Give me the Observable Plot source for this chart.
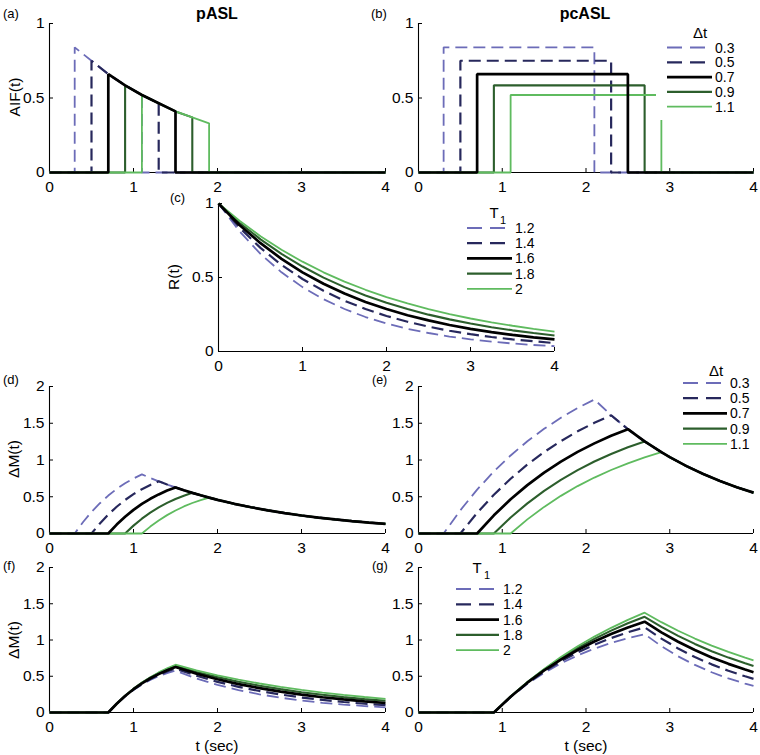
<!DOCTYPE html>
<html><head><meta charset="utf-8">
<script src="https://cdn.jsdelivr.net/npm/d3@7"></script>
<script src="https://cdn.jsdelivr.net/npm/@observablehq/plot@0.6"></script>
<style>
body{margin:0;background:#fff;}
#fig{position:relative;width:760px;height:755px;overflow:hidden;background:#fff;font-family:"Liberation Sans",Arial,Helvetica,sans-serif;}
#fig svg{position:absolute;}
</style></head><body><div id="fig"></div>
<script>
// ---------- tick labels / categories ----------
const xTicks = [0, 1, 2, 3, 4];
const yTicksAIF = [0, 0.5, 1];
const yTicksDM = [0, 0.5, 1, 1.5, 2];
const dtLabels = ["0.3", "0.5", "0.7", "0.9", "1.1"];
const t1Labels = ["1.2", "1.4", "1.6", "1.8", "2"];

// ---------- (a) pASL AIF ----------
const aifP03 = [[0,0],[0.3,0],[0.3,0.84],[0.5,0.75],[0.7,0.66],[0.9,0.585],[1.1,0.52],[1.1,0],[4,0]];
const aifP05 = [[0,0],[0.5,0],[0.5,0.75],[0.7,0.66],[0.9,0.585],[1.1,0.52],[1.3,0.465],[1.3,0],[4,0]];
const aifP07 = [[0,0],[0.7,0],[0.7,0.66],[0.9,0.585],[1.1,0.52],[1.3,0.465],[1.5,0.41],[1.5,0],[4,0]];
const aifP09 = [[0,0],[0.9,0],[0.9,0.585],[1.1,0.52],[1.3,0.465],[1.5,0.41],[1.7,0.37],[1.7,0],[4,0]];
const aifP11 = [[0,0],[1.1,0],[1.1,0.52],[1.3,0.465],[1.5,0.41],[1.7,0.37],[1.9,0.33],[1.9,0],[4,0]];

// ---------- (b) pcASL AIF ----------
const aifC03 = [[0,0],[0.3,0],[0.3,0.84],[2.1,0.84],[2.1,0],[4,0]];
const aifC05 = [[0,0],[0.5,0],[0.5,0.75],[2.3,0.75],[2.3,0],[4,0]];
const aifC07 = [[0,0],[0.7,0],[0.7,0.66],[2.5,0.66],[2.5,0],[4,0]];
const aifC09 = [[0,0],[0.9,0],[0.9,0.585],[2.7,0.585],[2.7,0],[4,0]];
const aifC11 = [[0,0],[1.1,0],[1.1,0.52],[2.9,0.52],[2.9,0],[4,0]];

// ---------- (c) R(t) ----------
const tGridC = [0,0.25,0.5,0.75,1,1.25,1.5,1.75,2,2.25,2.5,2.75,3,3.25,3.5,3.75,4];
const R12 = [1,0.812,0.659,0.535,0.435,0.353,0.287,0.233,0.189,0.153,0.125,0.101,0.082,0.067,0.054,0.044,0.036];
const R14 = [1,0.837,0.700,0.585,0.490,0.410,0.343,0.287,0.240,0.201,0.168,0.140,0.117,0.098,0.082,0.069,0.057];
const R16 = [1,0.855,0.732,0.626,0.535,0.458,0.392,0.335,0.287,0.245,0.210,0.179,0.153,0.131,0.112,0.096,0.082];
const R18 = [1,0.870,0.758,0.659,0.574,0.499,0.435,0.378,0.329,0.287,0.249,0.217,0.189,0.164,0.143,0.125,0.108];
const R20 = [1,0.883,0.779,0.687,0.607,0.535,0.472,0.417,0.368,0.325,0.287,0.253,0.223,0.197,0.174,0.153,0.135];

// ---------- (d) pASL dM, varying dt ----------
const dRise03 = [[0,0],[0.3,0],[0.4,0.156],[0.5,0.293],[0.6,0.412],[0.7,0.516],[0.8,0.607],[0.9,0.684],[1.0,0.749],[1.1,0.804]];
const dRise05 = [[0,0],[0.5,0],[0.6,0.137],[0.7,0.258],[0.8,0.364],[0.9,0.456],[1.0,0.535],[1.1,0.603],[1.2,0.661],[1.3,0.710]];
const dRise07 = [[0,0],[0.7,0],[0.8,0.121],[0.9,0.228],[1.0,0.321],[1.1,0.402],[1.2,0.472],[1.3,0.532],[1.4,0.584],[1.5,0.627]];
const dRise09 = [[0,0],[0.9,0],[1.0,0.107],[1.1,0.201],[1.2,0.283],[1.3,0.355],[1.4,0.417],[1.5,0.470],[1.6,0.515],[1.7,0.553]];
const dRise11 = [[0,0],[1.1,0],[1.2,0.094],[1.3,0.177],[1.4,0.250],[1.5,0.313],[1.6,0.368],[1.7,0.415],[1.8,0.455],[1.9,0.488]];
const dTail = [[1.2,0.756],[1.3,0.710],[1.4,0.667],[1.5,0.627],[1.6,0.589],[1.7,0.553],[1.8,0.520],[1.9,0.488],[2.0,0.458],[2.2,0.404],[2.4,0.357],[2.6,0.315],[2.8,0.278],[3.0,0.245],[3.2,0.216],[3.4,0.191],[3.6,0.169],[3.8,0.149],[4.0,0.131]];

// ---------- (e) pcASL dM, varying dt ----------
const eRise03 = [[0,0],[0.3,0],[0.5,0.317],[0.7,0.597],[0.9,0.844],[1.1,1.062],[1.3,1.255],[1.5,1.425],[1.7,1.574],[1.9,1.707],[2.1,1.823]];
const eRise05 = [[0,0],[0.5,0],[0.7,0.280],[0.9,0.527],[1.1,0.745],[1.3,0.938],[1.5,1.107],[1.7,1.257],[1.9,1.390],[2.1,1.506],[2.3,1.609]];
const eRise07 = [[0,0],[0.7,0],[0.9,0.247],[1.1,0.465],[1.3,0.658],[1.5,0.828],[1.7,0.977],[1.9,1.110],[2.1,1.226],[2.3,1.329],[2.5,1.420]];
const eRise09 = [[0,0],[0.9,0],[1.1,0.218],[1.3,0.410],[1.5,0.580],[1.7,0.730],[1.9,0.862],[2.1,0.979],[2.3,1.082],[2.5,1.173],[2.7,1.253]];
const eRise11 = [[0,0],[1.1,0],[1.3,0.192],[1.5,0.362],[1.7,0.512],[1.9,0.645],[2.1,0.761],[2.3,0.864],[2.5,0.955],[2.7,1.035],[2.9,1.106]];
const eTail = [[2.1,1.823],[2.3,1.609],[2.5,1.420],[2.7,1.253],[2.9,1.106],[3.0,1.039],[3.2,0.917],[3.4,0.809],[3.6,0.714],[3.8,0.630],[4.0,0.556]];

// ---------- (f) pASL dM, varying T1 ----------
const tGridF = [0,0.7,0.8,0.9,1.0,1.1,1.2,1.3,1.4,1.5,1.75,2.0,2.25,2.5,2.75,3.0,3.25,3.5,3.75,4.0];
const fT12 = [0,0,0.120,0.223,0.311,0.386,0.449,0.501,0.543,0.577,0.468,0.380,0.309,0.251,0.204,0.165,0.134,0.109,0.089,0.072];
const fT14 = [0,0,0.121,0.226,0.317,0.395,0.462,0.519,0.566,0.605,0.506,0.423,0.354,0.296,0.248,0.207,0.173,0.145,0.121,0.101];
const fT16 = [0,0,0.121,0.228,0.321,0.402,0.472,0.532,0.584,0.627,0.536,0.459,0.392,0.336,0.287,0.246,0.210,0.180,0.154,0.131];
const fT18 = [0,0,0.122,0.230,0.325,0.408,0.481,0.544,0.598,0.644,0.560,0.488,0.425,0.370,0.322,0.280,0.244,0.212,0.185,0.161];
const fT20 = [0,0,0.122,0.231,0.327,0.413,0.487,0.553,0.610,0.659,0.582,0.513,0.453,0.400,0.353,0.311,0.275,0.242,0.214,0.189];

// ---------- (g) pcASL dM, varying T1 ----------
const tGridG = [0,0.9,1.1,1.3,1.5,1.7,1.9,2.1,2.3,2.5,2.7,2.9,3.1,3.3,3.5,3.7,3.9,4.0];
const gT12 = [0,0,0.214,0.395,0.548,0.677,0.787,0.880,0.959,1.025,1.081,0.915,0.775,0.656,0.555,0.470,0.398,0.366];
const gT14 = [0,0,0.216,0.404,0.566,0.707,0.829,0.935,1.027,1.106,1.175,1.019,0.883,0.765,0.664,0.575,0.499,0.464];
const gT16 = [0,0,0.218,0.411,0.580,0.730,0.862,0.979,1.082,1.173,1.253,1.106,0.976,0.861,0.760,0.671,0.592,0.556];
const gT18 = [0,0,0.220,0.416,0.592,0.749,0.890,1.016,1.129,1.230,1.320,1.181,1.057,0.946,0.846,0.757,0.678,0.641];
const gT20 = [0,0,0.221,0.421,0.601,0.765,0.913,1.047,1.168,1.278,1.377,1.246,1.127,1.020,0.923,0.835,0.756,0.719];

// ---------- helpers ----------
const zip = (t, y) => t.map((v, i) => [v, y[i]]);
const withTail = (rise, tail) => rise.concat(tail.filter(p => p[0] > rise[rise.length - 1][0] + 1e-9));

const SER = [
  {c: "#6c6cb8", w: 1.8, d: "12,6"},
  {c: "#27285c", w: 2.2, d: "12,6"},
  {c: "#000000", w: 2.7, d: null},
  {c: "#2c5e2c", w: 2.1, d: null},
  {c: "#5fbb5f", w: 1.8, d: null}
];
const ORDER = [0, 1, 3, 4, 2];
const FONT = "Liberation Sans, Arial, Helvetica, sans-serif";
const fig = document.getElementById("fig");
const mL = 50, mR = 14, mT = 12, mB = 32;
const TICKFS = 15.5;

function panel(x0, x1, yTop, yBot, ymax, yTicks, series) {
  const iw = x1 - x0, ih = yBot - yTop;
  const marks = [
    Plot.ruleX([0], {stroke: "#000", strokeWidth: 1.1}),
    Plot.ruleY([0], {stroke: "#000", strokeWidth: 1.1}),
    Plot.tickY(yTicks, {y: d => d, insetRight: iw - 4, stroke: "#000", strokeWidth: 1}),
    Plot.tickX(xTicks, {x: d => d, insetTop: ih - 4, stroke: "#000", strokeWidth: 1}),
    Plot.axisY({ticks: yTicks, tickSize: 0, tickPadding: 5, label: null, fontSize: TICKFS, tickFormat: d => String(d)}),
    Plot.axisX({ticks: xTicks, tickSize: 0, tickPadding: 8, label: null, fontSize: TICKFS, tickFormat: d => String(d)})
  ];
  for (const i of ORDER) {
    const s = SER[i];
    const o = {x: d => d[0], y: d => d[1], stroke: s.c, strokeWidth: s.w, strokeLinecap: "butt", strokeLinejoin: "miter"};
    if (s.d) o.strokeDasharray = s.d;
    marks.push(Plot.line(series[i], o));
  }
  const svg = Plot.plot({
    width: iw + mL + mR, height: ih + mT + mB,
    marginLeft: mL, marginRight: mR, marginTop: mT, marginBottom: mB,
    x: {domain: [0, 4]}, y: {domain: [0, ymax]},
    style: {background: "transparent", overflow: "visible", fontFamily: FONT, fontSize: TICKFS + "px", color: "#000"},
    marks
  });
  svg.style.position = "absolute";
  svg.style.left = (x0 - mL) + "px";
  svg.style.top = (yTop - mT) + "px";
  svg.style.maxWidth = "none";
  fig.appendChild(svg);
}

panel(49, 385, 23, 172, 1, yTicksAIF, [aifP03, aifP05, aifP07, aifP09, aifP11]);
panel(418, 753, 23, 172, 1, yTicksAIF, [aifC03, aifC05, aifC07, aifC09, aifC11]);
panel(218, 554, 203, 351, 1, yTicksAIF, [zip(tGridC, R12), zip(tGridC, R14), zip(tGridC, R16), zip(tGridC, R18), zip(tGridC, R20)]);
panel(49, 385, 386, 533, 2, yTicksDM, [withTail(dRise03, dTail), withTail(dRise05, dTail), withTail(dRise07, dTail), withTail(dRise09, dTail), withTail(dRise11, dTail)]);
panel(418, 753, 386, 533, 2, yTicksDM, [withTail(eRise03, eTail), withTail(eRise05, eTail), withTail(eRise07, eTail), withTail(eRise09, eTail), withTail(eRise11, eTail)]);
panel(49, 385, 567, 712, 2, yTicksDM, [zip(tGridF, fT12), zip(tGridF, fT14), zip(tGridF, fT16), zip(tGridF, fT18), zip(tGridF, fT20)]);
panel(418, 753, 567, 712, 2, yTicksDM, [zip(tGridG, gT12), zip(tGridG, gT14), zip(tGridG, gT16), zip(tGridG, gT18), zip(tGridG, gT20)]);

// ---------- overlay: titles, labels, legends ----------
const ov = d3.select(fig).append("svg")
  .attr("width", 760).attr("height", 755)
  .style("left", "0px").style("top", "0px")
  .style("font-family", FONT);

function txt(x, y, s, {size = 13, anchor = "start", weight = "normal", rotate = 0} = {}) {
  ov.append("text")
    .attr("transform", `translate(${x},${y})` + (rotate ? ` rotate(${rotate})` : ""))
    .attr("text-anchor", anchor)
    .attr("dominant-baseline", "central")
    .attr("font-size", size)
    .attr("font-weight", weight)
    .attr("fill", "#000")
    .text(s);
}

txt(3, 13, "(a)"); txt(371, 13, "(b)"); txt(170, 197, "(c)");
txt(3, 379, "(d)"); txt(372, 380, "(e)", {size: 12.5}); txt(3, 565, "(f)"); txt(372, 565, "(g)");
txt(217, 13, "pASL", {size: 16, anchor: "middle", weight: "bold"});
txt(585, 13, "pcASL", {size: 16, anchor: "middle", weight: "bold"});
txt(14, 97, "AIF(t)", {size: 15.5, anchor: "middle", rotate: -90});
txt(173, 277, "R(t)", {size: 15.5, anchor: "middle", rotate: -90});
txt(13, 459, "\u0394M(t)", {size: 15.5, anchor: "middle", rotate: -90});
txt(13, 640, "\u0394M(t)", {size: 15.5, anchor: "middle", rotate: -90});
txt(217, 745, "t (sec)", {size: 15.5, anchor: "middle"});
txt(586, 745, "t (sec)", {size: 15.5, anchor: "middle"});

function legend(lx1, lx2, y0, dy, labels, tx) {
  labels.forEach((lab, i) => {
    const s = SER[i], y = y0 + i * dy;
    const ln = ov.append("line").attr("x1", lx1).attr("x2", lx2).attr("y1", y).attr("y2", y)
      .attr("stroke", s.c).attr("stroke-width", s.w);
    if (s.d) ln.attr("stroke-dasharray", "15,8");
    txt(tx, y, lab, {size: 14});
  });
}

// (b) legend with white box that hides the lines behind it
ov.append("rect").attr("x", 656).attr("y", 20).attr("width", 104).attr("height", 100).attr("fill", "#fff");
txt(700, 32, "\u0394t", {size: 15, anchor: "middle"});
legend(667, 712, 47.5, 14.8, dtLabels, 715);

// (c) legend
txt(494, 212, "T", {size: 15, anchor: "middle"});
txt(500, 220, "1", {size: 11});
legend(467, 512, 228, 15.2, t1Labels, 515);

// (e) legend
txt(716, 370, "\u0394t", {size: 15, anchor: "middle"});
legend(683, 727, 383, 15.2, dtLabels, 730);

// (g) legend
txt(477, 567, "T", {size: 15, anchor: "middle"});
txt(484, 575, "1", {size: 11});
legend(456, 499, 589, 15.3, t1Labels, 503);
</script></body></html>
